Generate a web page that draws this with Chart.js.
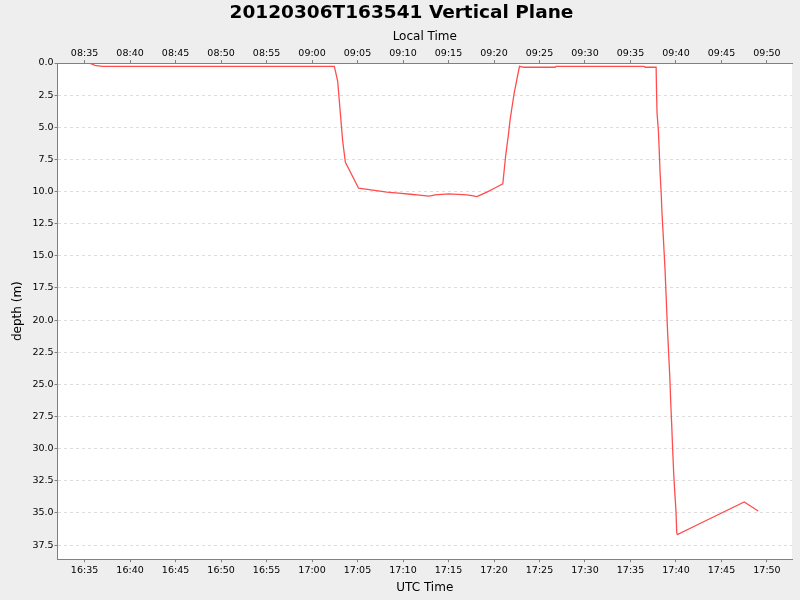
<!DOCTYPE html>
<html>
<head>
<meta charset="utf-8">
<script src="https://cdn.jsdelivr.net/npm/chart.js@4.4.1/dist/chart.umd.min.js"></script>
<style>
  html, body { margin: 0; padding: 0; background: #eeeeee; }
  #wrap { width: 800px; height: 600px; }
</style>
</head>
<body>
<div id="wrap"><canvas id="chart" width="800" height="600"></canvas></div>
<script>
// UTC sample times and depths (m)
const times = [
    "16:35:40", "16:36:08", "16:36:56", "17:02:27", "17:02:49", "17:03:22", "17:03:40",
    "17:05:07", "17:08:14", "17:10:48", "17:12:49", "17:13:32", "17:15:00", "17:17:01",
    "17:18:07", "17:19:13", "17:20:58", "17:21:17", "17:21:34", "17:21:47", "17:22:13",
    "17:22:48", "17:23:19", "17:26:43", "17:26:50", "17:36:29", "17:36:36", "17:37:49",
    "17:37:52", "17:37:55", "17:38:04", "17:38:10", "17:38:15", "17:38:22", "17:38:28",
    "17:38:35", "17:38:41", "17:38:48", "17:38:56", "17:39:04", "17:39:12", "17:39:20",
    "17:39:25", "17:39:32", "17:39:38", "17:39:45", "17:39:52", "17:40:00", "17:40:05",
    "17:40:09", "17:47:30", "17:49:02"
];
const depths = [
    0.05, 0.18, 0.26, 0.26, 1.4, 6.05, 7.73,
    9.74, 10.05, 10.21, 10.36, 10.26, 10.18, 10.26,
    10.39, 10.05, 9.40, 7.2, 5.67, 4.35, 2.34,
    0.26, 0.33, 0.33, 0.26, 0.26, 0.33, 0.33,
    2.32, 3.87, 5.28, 6.96, 8.51, 10.05, 11.72,
    13.23, 14.56, 16.11, 18.43, 20.75, 22.68, 24.62,
    26.3, 28.23, 30.03, 31.97, 33.38, 34.88, 36.53,
    36.68, 34.15, 34.85
];
const xRange = ["16:32:02", "17:52:45"];
const depthMax = 38.6;
const localOffsetHours = -8;

const toMin = s => {
    const p = s.split(":").map(Number);
    return p[0] * 60 + p[1] + (p[2] || 0) / 60;
};
const fmt = v => {
    let m = Math.round(v);
    m = ((m % 1440) + 1440) % 1440;
    const h = Math.floor(m / 60), mm = m % 60;
    return String(h).padStart(2, "0") + ":" + String(mm).padStart(2, "0");
};

const FONT = "'DejaVu Sans', sans-serif";
const points = times.map((t, i) => ({ x: toMin(t), y: depths[i] }));

const bgPlugin = {
    id: "bg",
    beforeDraw(chart) {
        const { ctx, chartArea: a } = chart;
        ctx.save();
        ctx.fillStyle = "#eeeeee";
        ctx.fillRect(0, 0, chart.width, chart.height);
        ctx.fillStyle = "#ffffff";
        ctx.fillRect(a.left, a.top, a.right - a.left, a.bottom - a.top);
        ctx.restore();
    }
};

const tickFont = { family: FONT, size: 9.5 };
const xCommon = {
    type: "linear",
    min: toMin(xRange[0]),
    max: toMin(xRange[1]),
    grid: { drawOnChartArea: false, drawTicks: true, tickLength: 3, tickColor: "#808080" },
    border: { display: true, color: "#808080" },
    ticks: { stepSize: 5, includeBounds: false, autoSkip: false, maxRotation: 0, color: "#000", font: tickFont, padding: 1 }
};

new Chart(document.getElementById("chart"), {
    type: "line",
    data: {
        datasets: [{
            data: points,
            xAxisID: "x",
            yAxisID: "y",
            borderColor: "#ff4d4d",
            borderWidth: 1.3,
            pointRadius: 0,
            tension: 0.0001,
            fill: false
        }]
    },
    options: {
        responsive: false,
        animation: false,
        layout: { padding: { left: 11, right: 8, top: 0, bottom: 5 } },
        plugins: {
            legend: { display: false },
            tooltip: { enabled: false },
            title: {
                display: true,
                text: "20120306T163541 Vertical Plane",
                color: "#000",
                font: { family: FONT, size: 18.5, weight: "bold" },
                padding: { top: 2, bottom: 4 }
            }
        },
        scales: {
            x: {
                ...xCommon,
                position: "bottom",
                ticks: { ...xCommon.ticks, padding: 3, callback: v => fmt(v) },
                title: { display: true, text: "UTC Time", color: "#000", font: { family: FONT, size: 12 }, padding: { top: 1, bottom: 0 } }
            },
            x2: {
                ...xCommon,
                position: "top",
                ticks: { ...xCommon.ticks, callback: v => fmt(v + localOffsetHours * 60) },
                title: { display: true, text: "Local Time", color: "#000", font: { family: FONT, size: 12 }, padding: { top: 1, bottom: 3 } }
            },
            y: {
                type: "linear",
                reverse: true,
                min: 0,
                max: depthMax,
                grid: { color: "#dddddd", tickColor: "#808080", tickLength: 3, drawTicks: true, tickBorderDash: [] },
                border: { display: true, color: "#808080", dash: [3, 3] },
                ticks: { stepSize: 2.5, includeBounds: false, color: "#000", font: tickFont, padding: 1, callback: v => v.toFixed(1) },
                title: { display: true, text: "depth (m)", color: "#000", font: { family: FONT, size: 12 }, padding: { top: 0, bottom: 6 } }
            }
        }
    },
    plugins: [bgPlugin]
});
</script>
</body>
</html>
